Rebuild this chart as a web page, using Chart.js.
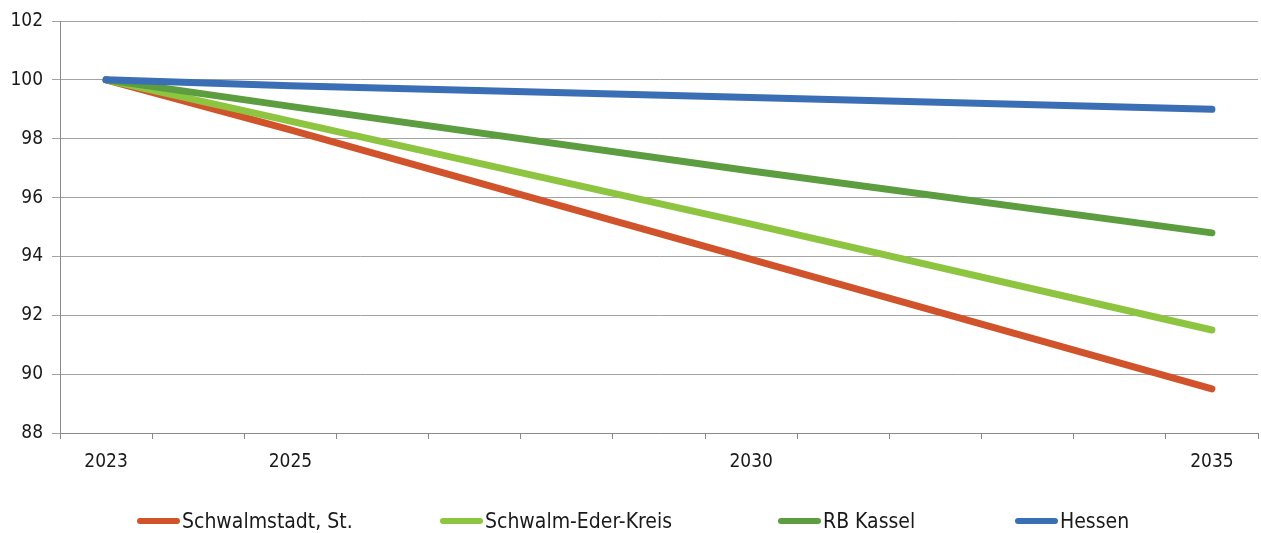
<!DOCTYPE html>
<html>
<head>
<meta charset="utf-8">
<script src="https://cdn.jsdelivr.net/npm/chart.js@4"></script>
<style>
  html, body { margin: 0; padding: 0; background: #fff; }
  #wrap { position: relative; width: 1261px; height: 533px; }
  #legend { position: absolute; left: 0; top: 509px; width: 1261px; height: 26px;
    font-family: 'Liberation Sans Narrow', 'DejaVu Sans Condensed', Arial, sans-serif; font-size: 21px; color: #1a1a1a; }
  .item { position: absolute; top: 0; display: flex; align-items: center; white-space: nowrap; }
  .sw { width: 43px; height: 6px; border-radius: 3px; margin-right: 2px; }
</style>
</head>
<body>
<div id="wrap">
  <canvas id="chart" width="1261" height="533"></canvas>
  <div id="legend"></div>
</div>
<script>
const years = ["2023", "2024", "2025", "2026", "2027", "2028", "2029", "2030", "2031", "2032", "2033", "2034", "2035"];
const shownYears = ["2023", "2025", "2030", "2035"];

// values only known for the shown years, the rest stays empty
const schwalmstadt = [100, null, 98.3, null, null, null, null, 93.9, null, null, null, null, 89.5];
const schwalmEder = [100, null, 98.6, null, null, null, null, 95.1, null, null, null, null, 91.5];
const rbKassel = [100, null, 99.1, null, null, null, null, 96.9, null, null, null, null, 94.8];
const hessen = [100, null, 99.8, null, null, null, null, 99.4, null, null, null, null, 99.0];

const seriesNames = ["Schwalmstadt, St.", "Schwalm-Eder-Kreis", "RB Kassel", "Hessen"];
const seriesColors = ["#d0532b", "#8dc540", "#5c9e3f", "#3b6fb5"];
const seriesData = [schwalmstadt, schwalmEder, rbKassel, hessen];
const legendLeft = [137, 440, 778, 1015];

const font = "'Liberation Sans Narrow', 'DejaVu Sans Condensed', Arial, sans-serif";

const datasets = seriesData.map((d, i) => ({
  label: seriesNames[i],
  data: d,
  borderColor: seriesColors[i],
  backgroundColor: seriesColors[i],
  borderWidth: 7,
  borderCapStyle: "round",
  borderJoinStyle: "round",
  pointRadius: 0,
  spanGaps: true,
  tension: 0,
  order: 3 - i,
}));

new Chart(document.getElementById("chart").getContext("2d"), {
  type: "line",
  data: { labels: years, datasets: datasets },
  options: {
    responsive: false,
    animation: false,
    layout: { padding: { left: 9, right: 3, top: 21, bottom: 60 } },
    plugins: { legend: { display: false }, tooltip: { enabled: false } },
    scales: {
      x: {
        offset: true,
        grid: { offset: true, drawOnChartArea: false, drawTicks: true, tickLength: 6, color: "#8a8a8a" },
        border: { color: "#8a8a8a", width: 1 },
        ticks: {
          autoSkip: false,
          maxRotation: 0,
          padding: 12,
          color: "#1a1a1a",
          font: { family: font, size: 19 },
          callback: function (v, i) {
            const lab = years[i];
            return shownYears.includes(lab) ? lab : "";
          },
        },
        afterFit: (s) => { s.height = 40; },
      },
      y: {
        min: 88,
        max: 102,
        grid: { color: "#a3a3a3", lineWidth: 1, tickLength: 8 },
        border: { color: "#8a8a8a", width: 1 },
        ticks: {
          stepSize: 2,
          padding: 9,
          color: "#1a1a1a",
          font: { family: font, size: 19 },
        },
        afterFit: (s) => { s.width = 51; },
      },
    },
  },
});

const legend = document.getElementById("legend");
seriesNames.forEach((name, i) => {
  const item = document.createElement("div");
  item.className = "item";
  item.style.left = legendLeft[i] + "px";
  const sw = document.createElement("span");
  sw.className = "sw";
  sw.style.background = seriesColors[i];
  const txt = document.createElement("span");
  txt.textContent = name;
  item.appendChild(sw);
  item.appendChild(txt);
  legend.appendChild(item);
});
</script>
</body>
</html>
